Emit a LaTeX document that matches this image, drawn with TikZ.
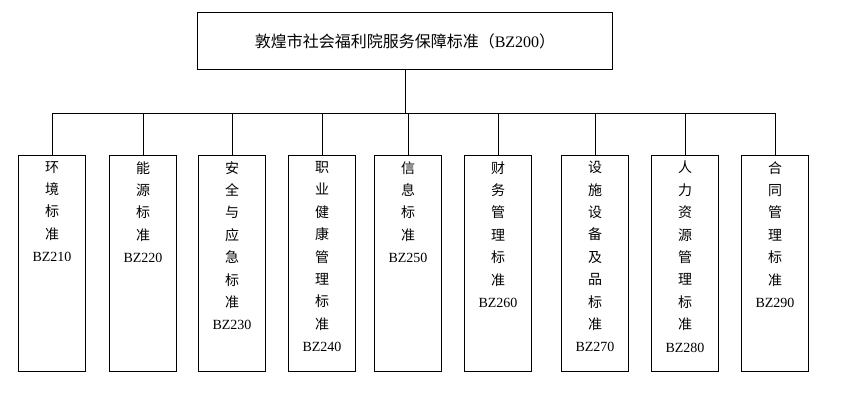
\documentclass[tikz,border=0pt]{standalone}
\usepackage{fontspec}
\setmainfont{Liberation Serif}
\newfontfamily\cjk{Noto Sans CJK SC}
\usetikzlibrary{positioning}
\tikzset{
  root/.style={draw, minimum width=311pt, minimum height=43pt, font=\cjk\fontsize{12}{14}\selectfont},
  leaf/.style={draw, minimum width=50pt, minimum height=162pt},
  leaftext/.style={align=center, font=\cjk\fontsize{10.5}{16.8}\selectfont, anchor=north}
}
\begin{document}
\begin{tikzpicture}[x=0.75pt, y=-0.75pt, line width=0.6pt]
  \useasboundingbox (0,0) rectangle (852,409);
  % 总标准
  \node[root] (top) at (405,41) {敦煌市社会福利院服务保障标准（{\rmfamily BZ200}）};
  \coordinate (bus) at (405,113);

  % 子标准
  \foreach \x/\n/\t in {
      52/1/{环\\境\\标\\准},
      143/2/{能\\源\\标\\准},
      232/3/{安\\全\\与\\应\\急\\标\\准},
      322/4/{职\\业\\健\\康\\管\\理\\标\\准},
      408/5/{信\\息\\标\\准},
      498/6/{财\\务\\管\\理\\标\\准},
      595/7/{设\\施\\设\\备\\及\\品\\标\\准},
      685/8/{人\\力\\资\\源\\管\\理\\标\\准},
      775/9/{合\\同\\管\\理\\标\\准}} {
    \node[leaf] (b\n) at (\x,263.5) {};
    \node[leaftext] (t\n) at ([yshift=-1pt]b\n.north) {\t\\\rmfamily BZ2\n0};
    \draw (b\n.north) -- (b\n.north |- bus);
  }

  % 连线
  \draw (top) -- (bus);
  \draw (b1.north |- bus) -- (b9.north |- bus);
\end{tikzpicture}
\end{document}
